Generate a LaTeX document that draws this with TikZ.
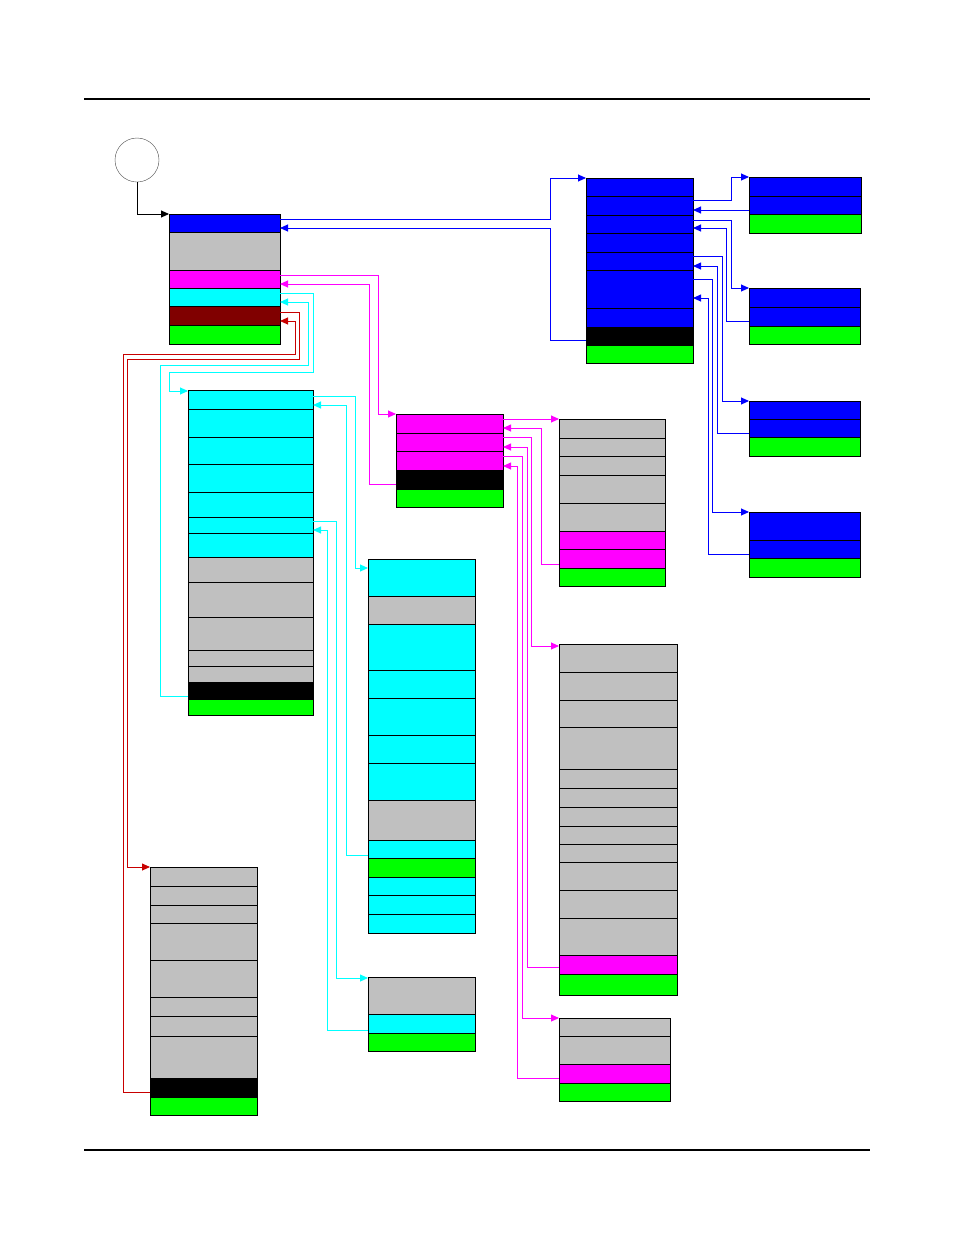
\documentclass[tikz,border=0pt]{standalone}
\usetikzlibrary{arrows.meta}
\definecolor{gr}{RGB}{192,192,192}
\definecolor{dr}{RGB}{128,0,0}
\definecolor{rd}{RGB}{200,0,0}
\definecolor{bl}{RGB}{0,0,255}
\definecolor{cy}{RGB}{0,255,255}
\definecolor{mg}{RGB}{255,0,255}
\definecolor{gn}{RGB}{0,255,0}
\newcommand\stk[3]{\foreach \ya/\yb/\cc in {#3}{\filldraw[fill=\cc,draw=black,line width=1pt] (#1,\ya) rectangle (#2,\yb);}}
\begin{document}
\begin{tikzpicture}[x=1pt,y=-1pt,
  conn/.style={line width=0.9pt,-{Triangle[length=8pt,width=7pt]}},
  back/.style={line width=0.9pt}]
\useasboundingbox (0,0) rectangle (954,1235);
\draw[line width=1.6pt] (84,99) -- (870,99);
\draw[line width=1.6pt] (84,1150) -- (870,1150);
\node[circle,draw=black!70,minimum size=44pt,inner sep=0pt] (start) at (137,160) {};
% boxes
\stk{169}{280}{214/232/bl,232/270/gr,270/288/mg,288/306/cy,306/325/dr,325/344/gn}
\stk{586}{693}{178/196/bl,196/215/bl,215/233/bl,233/252/bl,252/270/bl,270/308/bl,308/327/bl,327/345/black,345/363/gn}
\stk{749}{861}{177/196/bl,196/214/bl,214/233/gn}
\stk{749}{860}{288/307/bl,307/326/bl,326/344/gn}
\stk{749}{860}{401/419/bl,419/437/bl,437/456/gn}
\stk{749}{860}{512/540/bl,540/558/bl,558/577/gn}
\stk{396}{503}{414/433/mg,433/451/mg,451/470/mg,470/489/black,489/507/gn}
\stk{188}{313}{390/409/cy,409/437/cy,437/464/cy,464/492/cy,492/517/cy,517/533/cy,533/557/cy,557/582/gr,582/617/gr,617/650/gr,650/666/gr,666/682/gr,682/699/black,699/715/gn}
\stk{368}{475}{559/596/cy,596/624/gr,624/670/cy,670/698/cy,698/735/cy,735/763/cy,763/800/cy,800/840/gr,840/858/cy,858/877/gn,877/895/cy,895/914/cy,914/933/cy}
\stk{368}{475}{977/1014/gr,1014/1033/cy,1033/1051/gn}
\stk{150}{257}{867/886/gr,886/905/gr,905/923/gr,923/960/gr,960/997/gr,997/1016/gr,1016/1036/gr,1036/1078/gr,1078/1097/black,1097/1115/gn}
\stk{559}{665}{419/438/gr,438/456/gr,456/475/gr,475/503/gr,503/531/gr,531/549/mg,549/568/mg,568/586/gn}
\stk{559}{677}{644/672/gr,672/700/gr,700/727/gr,727/769/gr,769/788/gr,788/807/gr,807/826/gr,826/844/gr,844/862/gr,862/890/gr,890/918/gr,918/955/gr,955/974/mg,974/995/gn}
\stk{559}{670}{1018/1036/gr,1036/1064/gr,1064/1083/mg,1083/1101/gn}
% connectors
\draw[conn] (start.south) -- (137,214) -- (169,214);
\draw[conn,bl] (280,219) -- (550,219) -- (550,178) -- (586,178);
\draw[conn,bl] (586,340) -- (550,340) -- (550,228) -- (280,228);
\draw[conn,bl] (693,200) -- (731,200) -- (731,177) -- (749,177);
\draw[conn,bl] (749,210) -- (693,210);
\draw[conn,bl] (693,220) -- (731,220) -- (731,288) -- (749,288);
\draw[conn,bl] (749,321) -- (726,321) -- (726,228) -- (693,228);
\draw[conn,bl] (693,256) -- (722,256) -- (722,401) -- (749,401);
\draw[conn,bl] (749,433) -- (717,433) -- (717,266) -- (693,266);
\draw[conn,bl] (693,279) -- (712,279) -- (712,512) -- (749,512);
\draw[conn,bl] (749,554) -- (708,554) -- (708,298) -- (693,298);
\draw[conn,mg] (280,275) -- (378,275) -- (378,414) -- (396,414);
\draw[conn,mg] (396,484) -- (369,484) -- (369,284) -- (280,284);
\draw[conn,cy] (280,293) -- (313,293) -- (313,372) -- (169,372) -- (169,391) -- (188,391);
\draw[conn,cy] (188,696) -- (160,696) -- (160,365) -- (308,365) -- (308,302) -- (280,302);
\draw[conn,rd] (280,312) -- (299,312) -- (299,359) -- (127,359) -- (127,867) -- (150,867);
\draw[conn,rd] (150,1092) -- (123,1092) -- (123,354) -- (295,354) -- (295,321) -- (280,321);
\draw[conn,cy] (313,396) -- (355,396) -- (355,568) -- (368,568);
\draw[conn,cy] (368,855) -- (346,855) -- (346,405) -- (313,405);
\draw[conn,cy] (313,521) -- (336,521) -- (336,978) -- (368,978);
\draw[conn,cy] (368,1030) -- (327,1030) -- (327,530) -- (313,530);
\draw[conn,mg] (503,419) -- (559,419);
\draw[conn,mg] (559,564) -- (541,564) -- (541,428) -- (503,428);
\draw[conn,mg] (503,437) -- (531,437) -- (531,646) -- (559,646);
\draw[conn,mg] (559,967) -- (527,967) -- (527,447) -- (503,447);
\draw[conn,mg] (503,456) -- (522,456) -- (522,1018) -- (559,1018);
\draw[conn,mg] (559,1078) -- (517,1078) -- (517,466) -- (503,466);
\end{tikzpicture}
\end{document}
